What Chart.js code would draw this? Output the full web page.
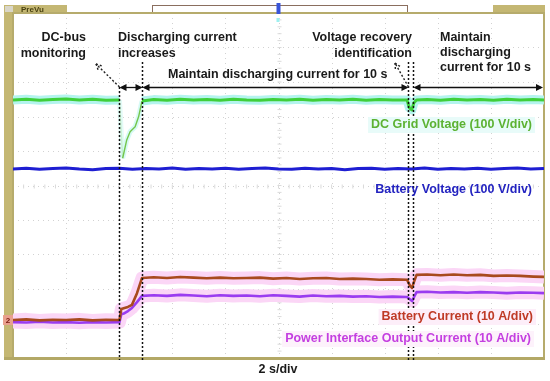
<!DOCTYPE html>
<html><head><meta charset="utf-8">
<script src="https://cdn.jsdelivr.net/npm/chart.js@4.4.1/dist/chart.umd.min.js"></script>
<style>html,body{margin:0;padding:0;background:#fff;}#wrap{width:550px;height:381px;}</style>
</head><body><div id="wrap"><canvas id="c" width="550" height="381"></canvas></div>
<script>
// time axis: seconds (2 s/div, 10 div); value axis: screen divisions (0..10)
const gridT = [0,0.5,1,1.5,2,2.5,3,3.5,4.01,4.13,4.28,4.41,4.6,4.73,4.86,5.3,5.8,6.3,6.8,7.3,7.8,8.3,8.8,9.3,9.8,10.3,10.8,11.3,11.8,12.3,12.8,13.3,13.8,14.3,14.84,14.93,15.02,15.1,15.2,15.6,16.1,16.6,17.1,17.6,18.1,18.6,19.1,19.6,20];
const gridV = [7.48,7.50,7.47,7.49,7.51,7.48,7.50,7.47,7.48,5.79,6.31,6.56,6.70,6.99,7.45,7.49,7.47,7.50,7.48,7.49,7.47,7.50,7.48,7.47,7.49,7.48,7.50,7.47,7.49,7.48,7.50,7.47,7.49,7.48,7.48,7.25,7.19,7.40,7.48,7.49,7.47,7.50,7.48,7.49,7.47,7.50,7.48,7.49,7.48];
const batVT = [0,0.5,1,1.5,2,2.5,3,3.5,4,4.5,5,5.5,6,6.5,7,7.5,8,8.5,9,9.5,10,10.5,11,11.5,12,12.5,13,13.5,14,14.5,15,15.5,16,16.5,17,17.5,18,18.5,19,19.5,20];
const batVV = [5.48,5.50,5.47,5.49,5.51,5.48,5.46,5.49,5.50,5.47,5.49,5.48,5.51,5.47,5.49,5.48,5.50,5.47,5.49,5.51,5.48,5.47,5.50,5.48,5.49,5.46,5.49,5.50,5.47,5.49,5.48,5.51,5.47,5.49,5.48,5.50,5.47,5.49,5.51,5.48,5.49];
const curT = [0,0.5,1,1.5,2,2.5,3,3.5,4.01,4.08,4.2,4.33,4.48,4.67,4.86,5.3,5.8,6.3,6.8,7.3,7.8,8.3,8.8,9.3,9.8,10.3,10.8,11.3,11.8,12.3,12.8,13.3,13.8,14.3,14.84,14.95,15.03,15.1,15.2,15.6,16.1,16.6,17.1,17.6,18.1,18.6,19.1,19.6,20];
const batIV = [1.10,1.12,1.09,1.11,1.10,1.12,1.09,1.11,1.10,1.42,1.45,1.48,1.54,1.88,2.32,2.34,2.32,2.35,2.33,2.31,2.33,2.31,2.32,2.33,2.30,2.32,2.29,2.31,2.32,2.29,2.30,2.29,2.27,2.28,2.27,2.10,2.03,2.20,2.41,2.42,2.40,2.42,2.40,2.41,2.38,2.39,2.38,2.36,2.35];
const outIV = [1.04,1.03,1.05,1.03,1.04,1.02,1.04,1.03,1.04,1.27,1.30,1.36,1.45,1.62,1.80,1.82,1.80,1.83,1.81,1.79,1.82,1.80,1.81,1.79,1.82,1.80,1.78,1.81,1.79,1.80,1.78,1.79,1.77,1.78,1.77,1.70,1.65,1.76,1.91,1.92,1.90,1.91,1.89,1.91,1.90,1.88,1.90,1.89,1.88];
const markerT = [4.01, 4.86, 14.87, 15.07];
const seriesLabels = ['DC Grid Voltage (100 V/div)','Battery Voltage (100 V/div)','Battery Current (10 A/div)','Power Interface Output Current (10 A/div)'];
const xLabel = '2 s/div';

const pts = (t, v) => t.map((x, i) => ({x, y: v[i]}));
const F = (s) => 'bold ' + s + 'px "Liberation Sans", Arial, sans-serif';
const inTransient = c => c.p0.parsed.x >= markerT[0] && c.p1.parsed.x <= markerT[1] + 0.01;
const isDrop = c => c.p0.parsed.x === markerT[0];

function line(ctx, x1, y1, x2, y2){ ctx.beginPath(); ctx.moveTo(x1,y1); ctx.lineTo(x2,y2); ctx.stroke(); }
function head(ctx, x, y, dir){
  const L = 7, W = 3.5;
  ctx.beginPath();
  ctx.moveTo(x - dir*L, y - W); ctx.lineTo(x, y); ctx.lineTo(x - dir*L, y + W);
  ctx.closePath(); ctx.fill();
}
function dbl(ctx, x1, x2, y){
  line(ctx, x1 + 2, y, x2 - 2, y);
  head(ctx, x1, y, -1); head(ctx, x2, y, 1);
}
function dotArrow(ctx, x1, y1, x2, y2){
  ctx.save(); ctx.setLineDash([2,2]); ctx.lineWidth = 1.4;
  line(ctx, x1, y1, x2, y2);
  const ang = Math.atan2(y2 - y1, x2 - x1), L = 8;
  line(ctx, x2, y2, x2 - L*Math.cos(ang - 0.45), y2 - L*Math.sin(ang - 0.45));
  line(ctx, x2, y2, x2 - L*Math.cos(ang + 0.45), y2 - L*Math.sin(ang + 0.45));
  ctx.restore();
}
function txt(ctx, s, x, y, color, align, bg){
  ctx.font = F(12.5); ctx.textAlign = align; ctx.textBaseline = 'middle';
  if (bg){
    const w = ctx.measureText(s).width, x0 = align === 'right' ? x - w : x;
    ctx.fillStyle = bg; ctx.fillRect(x0 - 3, y - 8, w + 6, 16);
  }
  ctx.fillStyle = color; ctx.fillText(s, x, y);
}

const overlay = {
  id: 'overlay',
  beforeDraw(chart){
    const {ctx, chartArea: a, scales: {x, y}} = chart;
    ctx.save();
    ctx.fillStyle = '#fff'; ctx.fillRect(0, 0, chart.width, chart.height);
    // grid
    ctx.strokeStyle = '#d2d2d2'; ctx.lineWidth = 1; ctx.setLineDash([1,4]);
    for (let i = 1; i < 10; i++){ const px = Math.round(x.getPixelForValue(i*2)) + 0.5; line(ctx, px, a.top, px, a.bottom); }
    for (let j = 1; j < 10; j++){ const py = Math.round(y.getPixelForValue(j)) + 0.5; line(ctx, a.left, py, a.right, py); }
    ctx.setLineDash([]);
    const cx = Math.round(x.getPixelForValue(10)) + 0.5, cy = Math.round(y.getPixelForValue(5)) + 0.5;
    ctx.strokeStyle = '#dadada';
    for (let k = 1; k < 50; k++){ const px = x.getPixelForValue(k*0.4); line(ctx, px, cy - 2, px, cy + 2); }
    for (let k = 1; k < 50; k++){ const py = y.getPixelForValue(k*0.2); line(ctx, cx - 2, py, cx + 2, py); }
    // frame
    ctx.fillStyle = '#c4b773';
    ctx.fillRect(4, 5, a.left - 4, a.bottom + 2 - 5);
    ctx.fillRect(4, 5, 63, 8);
    ctx.fillRect(493, 5, a.right + 1 - 493, 8);
    ctx.strokeStyle = '#b6ab6c'; ctx.lineWidth = 2;
    ctx.strokeRect(a.left, a.top, a.right - a.left, a.bottom - a.top);
    ctx.fillStyle = '#b3a866'; ctx.fillRect(4, a.bottom - 1, a.right - 3, 3);
    // top bracket + trigger marker
    ctx.strokeStyle = '#8a6e5e'; ctx.lineWidth = 1;
    line(ctx, 152, 5.5, 408, 5.5); line(ctx, 152.5, 5, 152.5, 12); line(ctx, 407.5, 5, 407.5, 12);
    ctx.fillStyle = '#3a55d8'; ctx.fillRect(x.getPixelForValue(10) - 2, 3, 4, 11);
    ctx.fillStyle = '#9ef0f0'; ctx.fillRect(x.getPixelForValue(10) - 2, 18, 3, 4);
    ctx.fillStyle = '#d9d6c8'; ctx.fillRect(5, 6, 8, 6);
    ctx.font = 'bold 8px "Liberation Sans", Arial, sans-serif'; ctx.fillStyle = '#4a4212';
    ctx.textBaseline = 'middle'; ctx.textAlign = 'left'; ctx.fillText('PreVu', 21, 9.5);
    ctx.restore();
  },
  afterDatasetsDraw(chart){
    const {ctx, chartArea: a, scales: {x, y}} = chart;
    ctx.save();
    // vertical dotted markers
    ctx.strokeStyle = '#111'; ctx.lineWidth = 1.5; ctx.setLineDash([2,2]);
    const tops = [87, 62, 62, 62];
    markerT.forEach((t, i) => { const px = Math.round(x.getPixelForValue(t)) + 0.5; line(ctx, px, tops[i], px, a.bottom + 2); });
    ctx.setLineDash([]);
    // arrows
    ctx.strokeStyle = '#111'; ctx.fillStyle = '#111'; ctx.lineWidth = 1.3;
    const ay = 87.5;
    const m = markerT.map(t => Math.round(x.getPixelForValue(t)) + 0.5);
    dbl(ctx, m[0], m[1], ay);
    dbl(ctx, m[1], m[2], ay);
    dbl(ctx, m[3], a.right - 1, ay);
    ctx.strokeStyle = '#222';
    dotArrow(ctx, m[0], 87, 96, 64);
    dotArrow(ctx, m[2], 87, 395, 63);
    // annotation text
    const k = '#1a1a1a';
    txt(ctx, 'DC-bus', 86, 38, k, 'right');
    txt(ctx, 'monitoring', 86, 54, k, 'right');
    txt(ctx, 'Discharging current', 118, 38, k, 'left');
    txt(ctx, 'increases', 118, 54, k, 'left');
    txt(ctx, 'Voltage recovery', 412, 38, k, 'right');
    txt(ctx, 'identification', 412, 54, k, 'right');
    txt(ctx, 'Maintain', 440, 38, k, 'left');
    txt(ctx, 'discharging', 440, 53, k, 'left');
    txt(ctx, 'current for 10 s', 440, 68, k, 'left');
    txt(ctx, 'Maintain discharging current for 10 s', 168, 75, k, 'left');
    txt(ctx, seriesLabels[0], 532, 125, '#5cb232', 'right', '#e8fbf9');
    txt(ctx, seriesLabels[1], 532, 190, '#2323c0', 'right');
    txt(ctx, seriesLabels[2], 533, 317, '#bf3a26', 'right', '#fdeef9');
    txt(ctx, seriesLabels[3], 531, 339, '#c43fe0', 'right', '#fdf2fb');
    txt(ctx, xLabel, 278, 370, k, 'center');
    // channel 2 ground marker
    const gy = y.getPixelForValue(batIV[0]);
    ctx.fillStyle = '#e9a08e'; ctx.fillRect(3, gy - 5, 10, 10);
    ctx.font = 'bold 8px "Liberation Sans", Arial, sans-serif'; ctx.fillStyle = '#7a1a10';
    ctx.textAlign = 'center'; ctx.textBaseline = 'middle'; ctx.fillText('2', 8, gy + 0.5);
    ctx.restore();
  }
};

new Chart(document.getElementById('c').getContext('2d'), {
  type: 'line',
  data: { datasets: [
    { label: seriesLabels[2], data: pts(curT, batIV), borderColor: '#a84a1e', borderWidth: 2.6 },
    { label: seriesLabels[3], data: pts(curT, outIV), borderColor: '#9a3cf0', borderWidth: 2.6 },
    { label: seriesLabels[0], data: pts(gridT, gridV), borderColor: '#3fcf3a', borderWidth: 3,
      segment: {
        borderWidth: c => inTransient(c) ? 1.4 : undefined,
        borderColor: c => isDrop(c) ? 'rgba(120,210,100,0.25)' : (inTransient(c) ? '#74c64c' : undefined)
      } },
    { label: seriesLabels[1], data: pts(batVT, batVV), borderColor: '#1e1ed2', borderWidth: 3 },
    { label: 'glow0', data: pts(gridT, gridV), borderColor: '#b4f4ee', borderWidth: 9,
      segment: {
        borderWidth: c => inTransient(c) ? 5 : undefined,
        borderColor: c => isDrop(c) ? 'rgba(200,248,240,0.5)' : (inTransient(c) ? '#d6faf5' : undefined)
      } },
    { label: 'glow2', data: pts(curT, batIV), borderColor: '#fbd6f6', borderWidth: 13 },
    { label: 'glow3', data: pts(curT, outIV), borderColor: '#fbd6f6', borderWidth: 13 }
  ]},
  options: {
    responsive: false, animation: false, devicePixelRatio: 1,
    layout: { padding: { left: 13, top: 13, right: 6, bottom: 23 } },
    scales: {
      x: { type: 'linear', min: 0, max: 20, display: false },
      y: { min: 0, max: 10, display: false }
    },
    elements: { point: { radius: 0 }, line: { tension: 0, borderJoinStyle: 'round' } },
    plugins: { legend: { display: false }, tooltip: { enabled: false } }
  },
  plugins: [overlay]
});
</script></body></html>
